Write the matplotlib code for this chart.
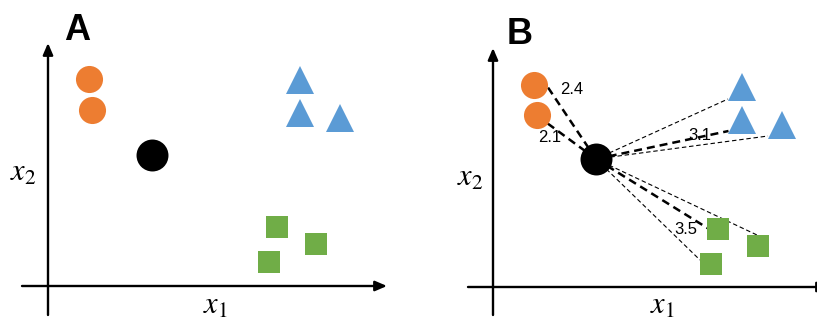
import matplotlib
matplotlib.use("Agg")
import matplotlib.pyplot as plt

plt.rcParams['font.family'] = ['Liberation Sans', 'DejaVu Sans']
plt.rcParams['mathtext.fontset'] = 'stix'

ORANGE = '#ED7D31'
BLUE = '#5B9BD5'
GREEN = '#70AD47'

# ---- Panel A data (arbitrary units, origin at axis crossing) ----
a_orange_x = [4.1, 4.4]
a_orange_y = [20.7, 17.6]
a_query = (10.4, 13.1)
a_tri_x = [25.2, 25.2, 29.2]
a_tri_y = [20.6, 17.3, 16.8]
a_sq_x = [22.9, 26.8, 22.1]
a_sq_y = [5.9, 4.2, 2.4]

# ---- Panel B data ----
b_orange_x = [4.1, 4.4]
b_orange_y = [20.2, 17.2]
b_query = (10.3, 12.8)
b_tri_x = [24.9, 24.9, 28.9]
b_tri_y = [20.0, 16.7, 16.2]
b_sq_x = [22.5, 26.5, 21.8]
b_sq_y = [5.8, 4.1, 2.3]

# distance line end points (query -> neighbour) and whether among nearest
line_end_x = [5.4, 5.4, 23.5, 23.55, 27.5, 21.6, 26.4, 20.7]
line_end_y = [20.1, 16.4, 18.8, 15.6, 15.1, 5.8, 5.2, 2.7]
line_near = [True, True, False, True, False, True, False, False]

dist_labels = ['2.4', '2.1', '3.1', '3.5']
dist_x = [7.9, 5.7, 20.7, 19.3]
dist_y = [19.7, 15.0, 15.2, 5.8]

fig = plt.figure(figsize=(8.17, 3.21), dpi=100)

def setup(ax, xlim, ylim):
    ax.set_xlim(*xlim)
    ax.set_ylim(*ylim)
    ax.axis('off')

def axes_arrows(ax, xr, yr):
    ap = dict(arrowstyle='-|>,head_length=0.7,head_width=0.3', lw=1.7,
              color='black', shrinkA=0, shrinkB=0)
    ax.annotate('', xy=(xr[1], 0), xytext=(xr[0], 0), arrowprops=ap,
                annotation_clip=False)
    ax.annotate('', xy=(0, yr[1]), xytext=(0, yr[0]), arrowprops=ap,
                annotation_clip=False)

def points(ax, ox, oy, q, tx, ty, sx, sy):
    ax.plot(ox, oy, 'o', ms=19.5, mew=0, color=ORANGE, zorder=5, clip_on=False)
    ax.plot(tx, ty, '^', ms=19.5, mew=0, color=BLUE, zorder=5, clip_on=False)
    ax.plot(sx, sy, 's', ms=15.2, mew=0, color=GREEN, zorder=5, clip_on=False)
    ax.plot([q[0]], [q[1]], 'o', ms=23, mew=0, color='black', zorder=6, clip_on=False)

# Panel A
axA = fig.add_axes([0, 0, 420 / 817, 1])
setup(axA, (-4.8, 37.2), (-3.5, 28.6))
axes_arrows(axA, (-2.6, 33.9), (-2.9, 24.3))
points(axA, a_orange_x, a_orange_y, a_query, a_tri_x, a_tri_y, a_sq_x, a_sq_y)
axA.text(2.9, 25.6, 'A', fontsize=26, fontweight='bold', ha='center', va='center')
axA.text(16.7, -2.75, r'$x_1$', fontsize=22, ha='center', va='baseline')
axA.text(-2.5, 11.3, r'$x_2$', fontsize=22, ha='center', va='center')

# Panel B
axB = fig.add_axes([440 / 817, 0, 377 / 817, 1])
setup(axB, (-5.3, 32.4), (-3.4, 28.7))
axes_arrows(axB, (-2.5, 33.6), (-2.8, 23.9))
for ex, ey, near in zip(line_end_x, line_end_y, line_near):
    if near:
        axB.plot([b_query[0], ex], [b_query[1], ey], color='black', lw=1.8,
                 dashes=(3.2, 2.0), zorder=3)
    else:
        axB.plot([b_query[0], ex], [b_query[1], ey], color='black', lw=0.8,
                 dashes=(4, 2.5), zorder=3)
points(axB, b_orange_x, b_orange_y, b_query, b_tri_x, b_tri_y, b_sq_x, b_sq_y)
for lab, x, y in zip(dist_labels, dist_x, dist_y):
    axB.text(x, y, lab, fontsize=12, ha='center', va='center', zorder=7)
axB.text(2.65, 25.2, 'B', fontsize=26, fontweight='bold', ha='center', va='center')
axB.text(16.9, -2.65, r'$x_1$', fontsize=22, ha='center', va='baseline')
axB.text(-2.3, 10.9, r'$x_2$', fontsize=22, ha='center', va='center')

fig.savefig('out.png', dpi=100)
